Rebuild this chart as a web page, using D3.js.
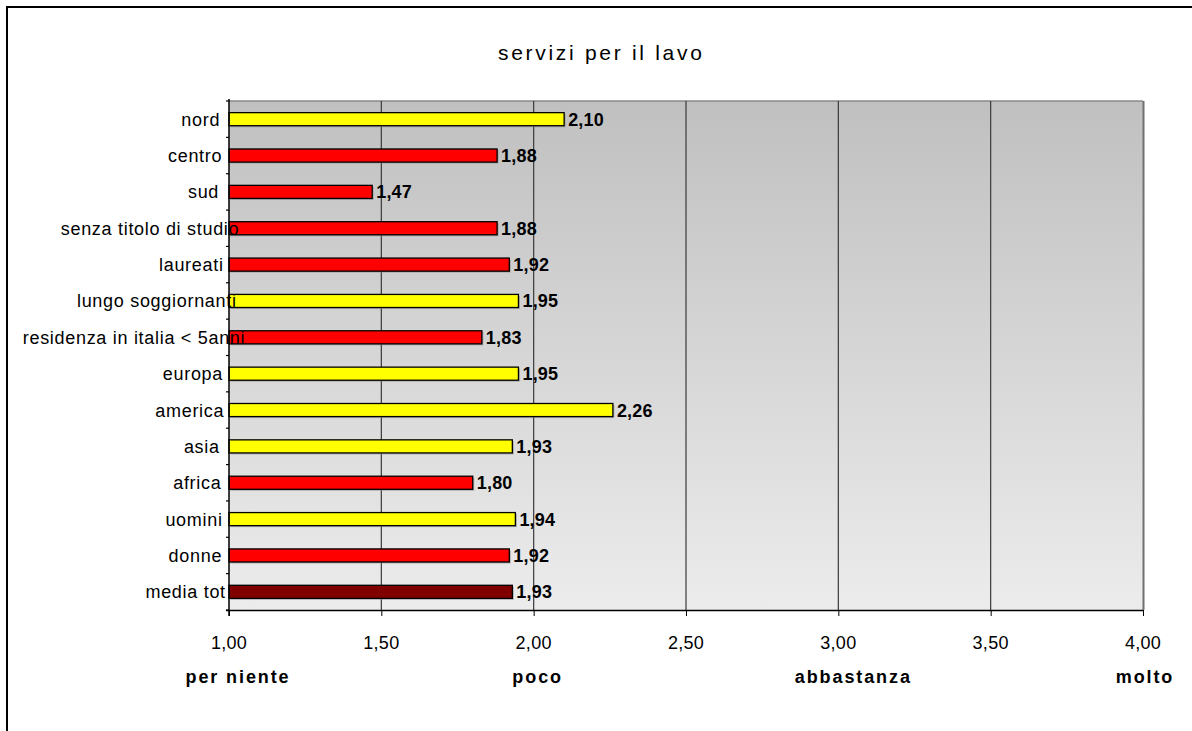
<!DOCTYPE html>
<html><head><meta charset="utf-8">
<script src="https://cdn.jsdelivr.net/npm/d3@7"></script>
<style>
body{margin:0;background:#fff;}
text{font-family:"Liberation Sans",Arial,sans-serif;}
</style></head>
<body><svg id="c" width="1192" height="731"></svg>
<script>
const title = "servizi per il lavo";
const categories = ["nord","centro","sud","senza titolo di studio","laureati","lungo soggiornanti","residenza in italia < 5anni","europa","america","asia","africa","uomini","donne","media tot"];
const values = [2.10,1.88,1.47,1.88,1.92,1.95,1.83,1.95,2.26,1.93,1.80,1.94,1.92,1.93];
const groups = ["y","r","r","r","r","y","r","y","y","y","r","y","r","t"];
const xTicks = [1.0,1.5,2.0,2.5,3.0,3.5,4.0];
const scaleLabels = ["per niente","poco","abbastanza","molto"];
const scaleValues = [1,2,3,4];

const colorMap = {y:"#FFFF00", r:"#FF0000", t:"#800000"};
const loc = d3.formatLocale({decimal:",", thousands:".", grouping:[3], currency:["","€"]});
const fmt = loc.format(".2f");

const svg = d3.select("#c");
const L=229, R=1143, T=101, B=610;

// outer frame
svg.append("rect").attr("x",7).attr("y",7).attr("width",1200).attr("height",740)
  .attr("fill","#fff").attr("stroke","#000").attr("stroke-width",2);

const x = d3.scaleLinear().domain([1,4]).range([L,R]);
const y = d3.scaleBand().domain(categories).range([T,B]).paddingInner(0.64).paddingOuter(0.32);
const yb = d3.scaleBand().domain(categories).range([T,B]);

// background gradient
const defs = svg.append("defs");
const g = defs.append("linearGradient").attr("id","bg").attr("x1",0).attr("y1",0).attr("x2",0).attr("y2",1);
g.append("stop").attr("offset","0%").attr("stop-color","#C0C0C0");
g.append("stop").attr("offset","100%").attr("stop-color","#ECECEC");
defs.append("clipPath").attr("id","tclip").append("rect").attr("x",0).attr("y",0).attr("width",707).attr("height",100);

svg.append("rect").attr("x",L).attr("y",T).attr("width",R-L).attr("height",B-T).attr("fill","url(#bg)");
// plot border: top gray, right shadow
svg.append("line").attr("x1",L).attr("x2",R).attr("y1",T).attr("y2",T).attr("stroke","#8a8a8a").attr("stroke-width",1.5);
svg.append("line").attr("x1",R+0.5).attr("x2",R+0.5).attr("y1",T).attr("y2",B).attr("stroke","#707070").attr("stroke-width",2);

// grid lines
svg.append("g").selectAll("line").data(xTicks.filter(d=>d>1&&d<4)).join("line")
  .attr("x1",d=>x(d)).attr("x2",d=>x(d)).attr("y1",T).attr("y2",B)
  .attr("stroke","#3a3a3a").attr("stroke-width",1.2);

// bars with shadow
const data = categories.map((c,i)=>({c, v:values[i], g:groups[i]}));
svg.append("g").selectAll("rect").data(data).join("rect")
  .attr("x",x(1)+1.5).attr("y",d=>y(d.c)+1.5).attr("width",d=>x(d.v)-x(1)).attr("height",y.bandwidth())
  .attr("fill","#8c8c8c").attr("opacity",0.6);
svg.append("g").selectAll("rect").data(data).join("rect")
  .attr("x",x(1)).attr("y",d=>y(d.c)).attr("width",d=>x(d.v)-x(1)).attr("height",y.bandwidth())
  .attr("fill",d=>colorMap[d.g]).attr("stroke","#000").attr("stroke-width",1.3);

// value labels
svg.append("g").selectAll("text").data(data).join("text")
  .attr("x",d=>x(d.v)+4).attr("y",d=>y(d.c)+y.bandwidth()/2).attr("dy","0.36em")
  .attr("font-size",18).attr("font-weight","bold").attr("letter-spacing","0.2px")
  .text(d=>fmt(d.v));

// axes
const xAxis = d3.axisBottom(x).tickValues(xTicks).tickSize(6).tickFormat("");
const xg = svg.append("g").attr("transform",`translate(0,${B})`).call(xAxis);
xg.select(".domain").attr("stroke","#000").attr("stroke-width",1.5).attr("d",`M${L-3},0.5H${R}`);
xg.selectAll(".tick line").attr("stroke","#000");

svg.append("line").attr("x1",L).attr("x2",L).attr("y1",T-2).attr("y2",B+6).attr("stroke","#000").attr("stroke-width",1.5);
const bounds = categories.map(c=>yb(c)).concat([B]);
svg.append("g").selectAll("line").data(bounds).join("line")
  .attr("x1",L-3).attr("x2",L).attr("y1",d=>d).attr("y2",d=>d).attr("stroke","#000").attr("stroke-width",1.2);

// tick labels
svg.append("g").selectAll("text").data(xTicks).join("text")
  .attr("x",d=>x(d)).attr("y",649).attr("text-anchor","middle")
  .attr("font-size",18).attr("letter-spacing","0.3px").text(d=>fmt(d));

// scale labels
svg.append("g").selectAll("text").data(scaleValues).join("text")
  .attr("x",(d,i)=>x(d)+[9,4,15,2][i]).attr("y",683).attr("text-anchor","middle")
  .attr("font-size",18).attr("font-weight","bold").attr("letter-spacing","1.9px")
  .text((d,i)=>scaleLabels[i]);

// category labels (right-aligned, long labels overflowing as in reference)
svg.append("g").selectAll("text").data(categories).join("text")
  .attr("y",d=>yb(d)+yb.bandwidth()/2).attr("dy","0.36em")
  .attr("font-size",18).attr("letter-spacing","0.7px")
  .text(d=>d)
  .each(function(){
    const w = this.getComputedTextLength();
    d3.select(this).attr("x", 214.8 - 0.863*w);
  });

// title
svg.append("text").attr("x",498).attr("y",60).attr("font-size",21).attr("letter-spacing","2.7px")
  .attr("clip-path","url(#tclip)").text(title);
</script></body></html>
